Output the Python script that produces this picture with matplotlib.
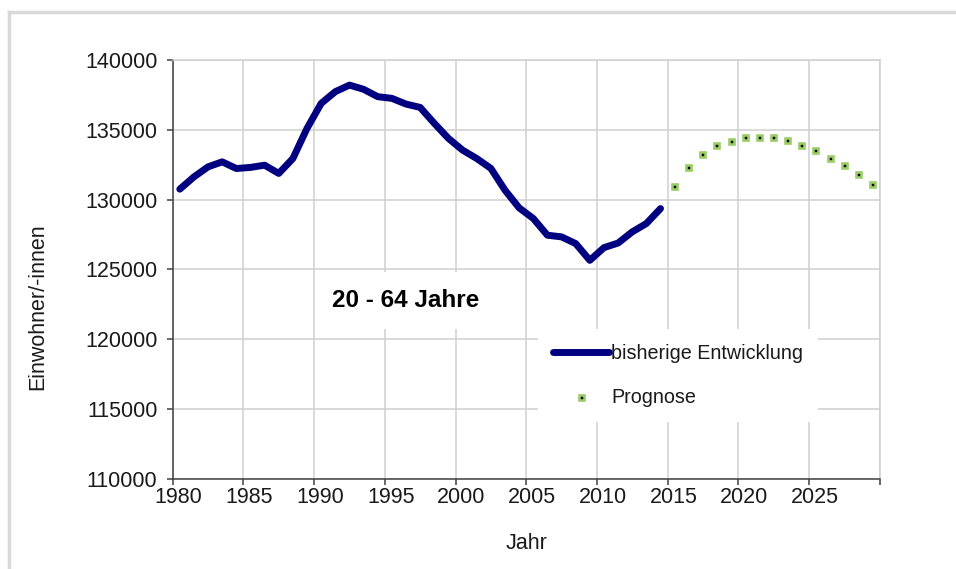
import numpy as np
import matplotlib
matplotlib.use('Agg')
import matplotlib.pyplot as plt
from matplotlib.transforms import ScaledTranslation
from matplotlib.lines import Line2D

plt.rcParams['font.family'] = ['Liberation Sans', 'DejaVu Sans']

# Einwohner/-innen 20 - 64 Jahre
years_hist = np.arange(1980, 2015)
pop_hist = [130740, 131620, 132340, 132700, 132220, 132300, 132460, 131870, 132940, 135100,
            136890, 137730, 138200, 137900, 137370, 137250, 136840, 136600, 135460, 134380,
            133540, 132940, 132230, 130670, 129400, 128640, 127440, 127320, 126840, 125640,
            126550, 126880, 127680, 128280, 129350]
years_prog = np.arange(2015, 2030)
pop_prog = [131000, 132320, 133230, 133880, 134190, 134450, 134450, 134450, 134260, 133880,
            133520, 132970, 132490, 131840, 131100]

x_ticks = np.arange(1980, 2031, 5)
x_labels = ['1980', '1985', '1990', '1995', '2000', '2005', '2010', '2015', '2020', '2025', '']
y_ticks = np.arange(110000, 140001, 5000)

W, H = 956, 569
fig = plt.figure(figsize=(W / 100, H / 100), dpi=100)
ax = fig.add_axes([172.7 / W, 1 - 478.5 / H, 707 / W, 418.5 / H])

# light grey frame around the chart
fig.add_artist(Line2D([9 / W, 1], [1 - 12 / H, 1 - 12 / H], color='#d9d9d9', lw=2.5, transform=fig.transFigure))
fig.add_artist(Line2D([9 / W, 9 / W], [0, 1 - 12 / H], color='#d9d9d9', lw=2.5, transform=fig.transFigure))

# points sit in the middle of each year (category axis)
ax.plot(years_hist + 0.5, pop_hist, color='#000080', lw=5, solid_capstyle='round',
        solid_joinstyle='round', zorder=3, label='bisherige Entwicklung')
ax.plot(years_prog + 0.45, pop_prog, ls='none', marker='s', ms=3.6, mfc='black',
        mec='#99cc66', mew=1.9, zorder=3, label='Prognose')

ax.set_xlim(1980, 2030)
ax.set_ylim(110000, 140000)
ax.set_xticks(x_ticks)
ax.set_xticklabels(x_labels)
ax.set_yticks(y_ticks)
ax.grid(True, color='#d0d0d0', lw=1.1)
ax.set_axisbelow(True)

for s in ['top', 'right']:
    ax.spines[s].set_color('#d0d0d0')
    ax.spines[s].set_linewidth(1.1)
for s in ['left', 'bottom']:
    ax.spines[s].set_color('#404040')
    ax.spines[s].set_linewidth(1.1)

fs = 15.5
ax.tick_params(axis='both', direction='out', length=4, width=1.1, color='#404040',
               labelsize=fs, labelcolor='#1a1a1a')
ax.tick_params(axis='y', pad=7)
ax.tick_params(axis='x', pad=2)
for lbl in ax.get_xticklabels():
    lbl.set_transform(lbl.get_transform() + ScaledTranslation(6 / 100, 0, fig.dpi_scale_trans))

ax.set_xlabel('Jahr', fontsize=fs, color='#1a1a1a', labelpad=18)
ax.set_ylabel('Einwohner/-innen', fontsize=fs, color='#1a1a1a')
ax.yaxis.set_label_coords(-0.176, 0.41)

ax.text(1996.5, 122750, '20 - 64 Jahre', fontsize=17.5, fontweight='bold', ha='center', va='center',
        bbox=dict(facecolor='white', edgecolor='none', pad=12), zorder=2)

leg = ax.legend(loc='upper left', bbox_to_anchor=(538 / W, 1 - 329 / H), bbox_transform=fig.transFigure,
                fontsize=14.2, frameon=True, fancybox=False, framealpha=1, edgecolor='none',
                handlelength=2.85, handletextpad=0.1, labelspacing=1.3, borderpad=0.75, borderaxespad=0)
for t in leg.get_texts():
    t.set_color('#1a1a1a')

fig.savefig('out.png', dpi=100)
